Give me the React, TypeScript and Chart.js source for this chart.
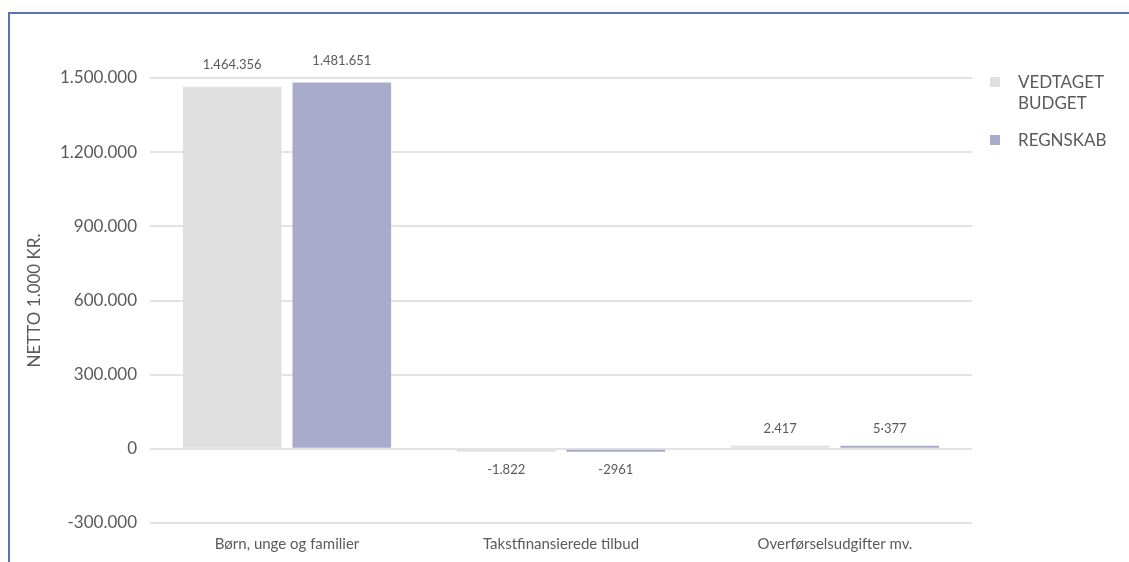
import React, { useEffect, useRef } from "react";
import { Chart, registerables } from "chart.js";

Chart.register(...registerables);

const categories = ["Børn, unge og familier", "Takstfinansierede tilbud", "Overførselsudgifter mv."];
const budgetValues = [1464356, -1822, 2417];
const regnskabValues = [1481651, -2961, 5377];
const budgetLabels = ["1.464.356", "-1.822", "2.417"];
const regnskabLabels = ["1.481.651", "-2961", "5·377"];
const seriesNames = ["VEDTAGET BUDGET", "REGNSKAB"];
const yTicks = [-300000, 0, 300000, 600000, 900000, 1200000, 1500000];

const FONT = "Lato, 'Open Sans', sans-serif";
const TEXT = "#5a5a5a";
const COL_BUDGET = "#e0e0e0";
const COL_REGN = "#a9abcc";

const fmt = (v: number) => {
  const s = Math.abs(v).toString().replace(/\B(?=(\d{3})+(?!\d))/g, ".");
  return (v < 0 ? "-" : "") + s;
};

const valueLabelPlugin = {
  id: "valueLabels",
  afterDatasetsDraw(chart: any) {
    const ctx = chart.ctx;
    const labelSets = [budgetLabels, regnskabLabels];
    ctx.save();
    ctx.font = `13px ${FONT}`;
    ctx.fillStyle = TEXT;
    ctx.textAlign = "center";
    ctx.textBaseline = "middle";
    chart.data.datasets.forEach((ds: any, di: number) => {
      const meta = chart.getDatasetMeta(di);
      meta.data.forEach((bar: any, i: number) => {
        const v = ds.data[i];
        const txt = labelSets[di][i];
        if (v >= 0) {
          ctx.fillText(txt, bar.x, bar.y - (v > 100000 ? 22 : 17));
        } else {
          ctx.fillText(txt, bar.x, bar.y + 18);
        }
      });
    });
    ctx.restore();
  },
};

export default function App() {
  const ref = useRef<HTMLCanvasElement | null>(null);
  useEffect(() => {
    if (!ref.current) return;
    const chart = new Chart(ref.current, {
      type: "bar",
      data: {
        labels: categories,
        datasets: [
          {
            label: seriesNames[0],
            data: budgetValues,
            backgroundColor: COL_BUDGET,
            categoryPercentage: 0.8,
            barPercentage: 0.9,
            minBarLength: 3,
          },
          {
            label: seriesNames[1],
            data: regnskabValues,
            backgroundColor: COL_REGN,
            categoryPercentage: 0.8,
            barPercentage: 0.9,
            minBarLength: 3,
          },
        ],
      },
      options: {
        responsive: false,
        animation: false,
        layout: { padding: { top: 78, right: 157, bottom: 0, left: 0 } },
        plugins: {
          legend: { display: false },
          tooltip: { enabled: false },
        },
        scales: {
          x: {
            grid: { display: false, drawTicks: false },
            border: { display: false },
            ticks: { color: TEXT, font: { family: FONT, size: 15 }, padding: 12 },
            afterFit(scale: any) {
              scale.height = 39;
            },
          },
          y: {
            min: -300000,
            max: 1500000,
            afterBuildTicks(scale: any) {
              scale.ticks = yTicks.map((v) => ({ value: v }));
            },
            grid: { color: "#e3e3e3", lineWidth: 2, drawTicks: false },
            border: { display: false },
            ticks: {
              color: TEXT,
              font: { family: FONT, size: 17 },
              padding: 13,
              callback: (v: any) => fmt(Number(v)),
            },
            title: {
              display: true,
              text: "NETTO 1.000 KR.",
              color: TEXT,
              font: { family: FONT, size: 17 },
              padding: { top: 24, bottom: 0 },
            },
            afterFit(scale: any) {
              scale.width = 150;
            },
          },
        },
      },
      plugins: [valueLabelPlugin],
    });
    return () => chart.destroy();
  }, []);

  const legendItems = [
    { color: COL_BUDGET, lines: ["VEDTAGET", "BUDGET"], top: 71 },
    { color: COL_REGN, lines: ["REGNSKAB"], top: 129 },
  ];

  return (
    <div
      style={{
        position: "absolute",
        left: 0,
        top: 0,
        width: 1129,
        height: 562,
        overflow: "hidden",
        background: "#fff",
      }}
    >
      <div
        style={{
          position: "absolute",
          left: 8,
          top: 12,
          width: 1200,
          height: 700,
          borderLeft: "2px solid #5d72b6",
          borderTop: "2px solid #5d72b6",
        }}
      />
      <canvas ref={ref} width={1129} height={562} style={{ position: "absolute", left: 0, top: 0 }} />
      {legendItems.map((it, i) => (
        <div
          key={i}
          style={{
            position: "absolute",
            left: 990,
            top: it.top,
            display: "flex",
            alignItems: "flex-start",
            fontFamily: FONT,
            fontSize: 17,
            lineHeight: "21px",
            color: TEXT,
          }}
        >
          <div style={{ width: 10, height: 10, background: it.color, marginTop: 6, marginRight: 18 }} />
          <div>
            {it.lines.map((l, j) => (
              <div key={j}>{l}</div>
            ))}
          </div>
        </div>
      ))}
    </div>
  );
}
